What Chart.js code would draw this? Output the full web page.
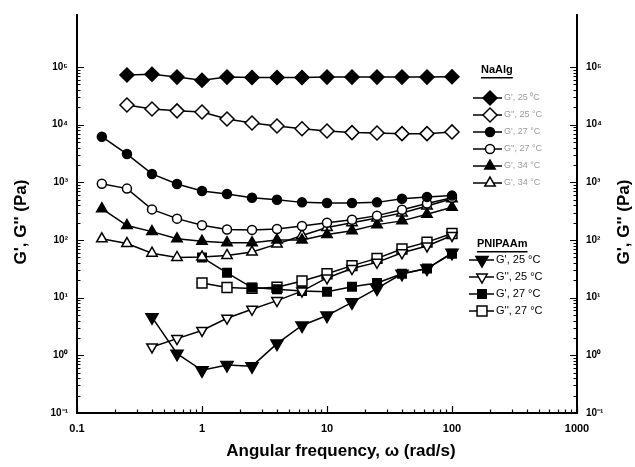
<!DOCTYPE html>
<html>
<head>
<meta charset="utf-8">
<script src="https://cdn.jsdelivr.net/npm/chart.js@4.4.1/dist/chart.umd.min.js"></script>
<style>
  html, body { margin: 0; padding: 0; background: #fff; }
  #wrap { width: 635px; height: 467px; position: relative; }
</style>
</head>
<body>
<div id="wrap"><canvas id="rheo"></canvas></div>
<script>
"use strict";

// angular frequency (rad/s) for each sweep
const w_naalg = [0.158, 0.251, 0.398, 0.631, 1, 1.585, 2.512, 3.981, 6.31, 10, 15.85, 25.12, 39.81, 63.1, 100];
const w_naalg_25 = [0.251, 0.398, 0.631, 1, 1.585, 2.512, 3.981, 6.31, 10, 15.85, 25.12, 39.81, 63.1, 100];
const w_pn_25 = [0.398, 0.631, 1, 1.585, 2.512, 3.981, 6.31, 10, 15.85, 25.12, 39.81, 63.1, 100];
const w_pn_27 = [1, 1.585, 2.512, 3.981, 6.31, 10, 15.85, 25.12, 39.81, 63.1, 100];

// moduli (Pa)
const g1_naalg_25 = [73000, 75000, 67000, 59000, 67000, 66000, 66000, 66000, 67000, 67000, 67000, 67000, 67000, 68000];
const g2_naalg_25 = [22000, 18700, 17400, 16600, 12600, 10700, 9500, 8500, 7800, 7300, 7200, 7000, 7000, 7500];
const g1_naalg_27 = [6200, 3100, 1400, 940, 710, 630, 540, 500, 450, 440, 440, 450, 520, 560, 590];
const g2_naalg_27 = [950, 780, 340, 235, 180, 152, 150, 155, 175, 200, 225, 265, 335, 430, 540];
const g1_naalg_34 = [350, 178, 140, 105, 95, 90, 90, 100, 100, 125, 145, 185, 215, 280, 370];
const g2_naalg_34 = [105, 87, 59, 50, 51, 54, 62, 85, 120, 165, 200, 240, 295, 390, 520];
const g1_pn_25 = [4.6, 1.07, 0.55, 0.68, 0.65, 1.6, 3.3, 4.9, 8.3, 14.5, 26, 32, 60];
const g2_pn_25 = [1.4, 1.95, 2.7, 4.4, 6.3, 8.9, 13, 22, 32, 41, 60, 79, 120];
const g1_pn_27 = [50, 27, 15, 14, 13, 12.7, 15.5, 18, 26, 32, 58];
const g2_pn_27 = [18, 15, 14.5, 15.2, 19.5, 26, 36, 48, 70, 92, 130];

const naalg_labels = ["G', 25 \u2070C", "G'', 25 \u00B0C", "G', 27 \u00B0C", "G'', 27 \u00B0C", "G', 34 \u00B0C", "G', 34 \u00B0C"];
const pn_labels = ["G', 25 \u00B0C", "G'', 25 \u00B0C", "G', 27 \u00B0C", "G'', 27 \u00B0C"];

const x_ticks = [0.1, 1, 10, 100, 1000];
const x_tick_labels = ["0.1", "1", "10", "100", "1000"];
const y_ticks = [0.1, 1, 10, 100, 1000, 10000, 100000];
const y_tick_labels = ["10\u207B\u00B9", "10\u2070", "10\u00B9", "10\u00B2", "10\u00B3", "10\u2074", "10\u2075"];

const FONT = "'Liberation Sans', Arial, sans-serif";

function series(label, xs, ys, style, filled, radius, rotation) {
  return {
    label: label,
    data: xs.map((x, i) => ({ x: x, y: ys[i] })),
    borderColor: '#000',
    borderWidth: 1.5,
    pointStyle: style,
    pointRotation: rotation || 0,
    pointRadius: radius,
    pointBorderWidth: 1.5,
    pointBorderColor: '#000',
    pointBackgroundColor: filled ? '#000' : '#fff',
    tension: 0
  };
}

const naalg_sets = [
  series("NaAlg G' 25", w_naalg_25, g1_naalg_25, 'rectRot', true, 7),
  series("NaAlg G'' 25", w_naalg_25, g2_naalg_25, 'rectRot', false, 7),
  series("NaAlg G' 27", w_naalg, g1_naalg_27, 'circle', true, 4.5),
  series("NaAlg G'' 27", w_naalg, g2_naalg_27, 'circle', false, 4.5),
  series("NaAlg G' 34", w_naalg, g1_naalg_34, 'triangle', true, 6),
  series("NaAlg G'' 34", w_naalg, g2_naalg_34, 'triangle', false, 6)
];
const pn_sets = [
  series("PNIPAAm G' 25", w_pn_25, g1_pn_25, 'triangle', true, 7, 180),
  series("PNIPAAm G'' 25", w_pn_25, g2_pn_25, 'triangle', false, 6, 180),
  series("PNIPAAm G' 27", w_pn_27, g1_pn_27, 'rect', true, 6),
  series("PNIPAAm G'' 27", w_pn_27, g2_pn_27, 'rect', false, 7)
];

function minorValues(lo, hi) {
  const out = [];
  for (let d = lo; d < hi; d *= 10) {
    for (let k = 1; k < 10; k++) out.push({ v: d * k, major: k === 1 });
  }
  out.push({ v: hi, major: true });
  return out;
}

function legendBlock(ctx, title, tx, ty, sets, labels, ys, lineX0, lineX1, markX, textX, textColor, textSize) {
  ctx.save();
  ctx.fillStyle = '#000';
  ctx.font = 'bold 11px ' + FONT;
  ctx.textBaseline = 'middle';
  ctx.textAlign = 'left';
  ctx.fillText(title, tx, ty);
  const tw = ctx.measureText(title).width;
  ctx.fillRect(tx, ty + 7, tw, 1.5);
  sets.forEach((ds, i) => {
    const y = ys[i];
    ctx.strokeStyle = '#000';
    ctx.lineWidth = 1.5;
    ctx.beginPath();
    ctx.moveTo(lineX0, y);
    ctx.lineTo(lineX1, y);
    ctx.stroke();
    ctx.fillStyle = ds.pointBackgroundColor;
    ctx.strokeStyle = '#000';
    ctx.lineWidth = 1.5;
    Chart.helpers.drawPoint(ctx, {
      pointStyle: ds.pointStyle,
      rotation: ds.pointRotation,
      radius: ds.pointRadius,
      borderWidth: 1.5
    }, markX, y);
    ctx.fillStyle = textColor;
    ctx.font = textSize + 'px ' + FONT;
    ctx.fillText(labels[i], textX, y);
  });
  ctx.restore();
}

const decor = {
  id: 'decor',
  afterDraw(chart) {
    const ctx = chart.ctx;
    const a = chart.chartArea;
    const sx = chart.scales.x, sy = chart.scales.y, sy2 = chart.scales.y2;
    ctx.save();
    ctx.strokeStyle = '#000';
    ctx.lineWidth = 1.2;
    // inward tick marks
    minorValues(0.1, 1000).forEach(t => {
      const px = Math.round(sx.getPixelForValue(t.v)) + 0.5;
      ctx.beginPath();
      ctx.moveTo(px, a.bottom);
      ctx.lineTo(px, a.bottom - (t.major ? 7 : 3.5));
      ctx.stroke();
    });
    minorValues(0.1, 100000).forEach(t => {
      const py = Math.round(sy.getPixelForValue(t.v)) + 0.5;
      const len = t.major ? 7 : 3.5;
      ctx.beginPath();
      ctx.moveTo(a.left, py);
      ctx.lineTo(a.left + len, py);
      ctx.moveTo(a.right, py);
      ctx.lineTo(a.right - len, py);
      ctx.stroke();
    });
    // axis titles
    ctx.fillStyle = '#000';
    ctx.font = 'bold 17px ' + FONT;
    ctx.textAlign = 'center';
    ctx.textBaseline = 'middle';
    ctx.fillText('Angular frequency, \u03C9 (rad/s)', 341, 451);
    [21, 624].forEach(x => {
      ctx.save();
      ctx.translate(x, 222);
      ctx.rotate(-Math.PI / 2);
      ctx.fillText("G', G'' (Pa)", 0, 0);
      ctx.restore();
    });
    ctx.restore();

    legendBlock(ctx, 'NaAlg', 481, 70, naalg_sets, naalg_labels,
      [98, 115, 132, 149, 166, 183], 473, 502, 490, 504, '#9a9a9a', 9);
    legendBlock(ctx, 'PNIPAAm', 477, 244, pn_sets, pn_labels,
      [260, 277, 294, 311], 469, 494, 482, 496, '#000', 11);
  }
};

function yAxis(position, width) {
  return {
    type: 'logarithmic',
    position: position,
    min: 0.1,
    max: 800000,
    grid: { display: false, drawTicks: false },
    border: { display: true, color: '#000', width: 2 },
    afterBuildTicks: (scale) => { scale.ticks = y_ticks.map(v => ({ value: v })); },
    afterFit: (scale) => { scale.width = width; },
    ticks: {
      autoSkip: false,
      padding: 9,
      color: '#000',
      font: { family: FONT, size: 10, weight: 'bold' },
      callback: (v) => y_tick_labels[y_ticks.indexOf(v)]
    }
  };
}

new Chart(document.getElementById('rheo'), {
  type: 'line',
  data: { datasets: naalg_sets.concat(pn_sets) },
  options: {
    responsive: true,
    maintainAspectRatio: false,
    animation: false,
    layout: { padding: { top: 13, left: 0, right: 0, bottom: 0 } },
    plugins: { legend: { display: false }, tooltip: { enabled: false } },
    scales: {
      x: {
        type: 'logarithmic',
        min: 0.1,
        max: 1000,
        grid: { display: false, drawTicks: false },
        border: { display: true, color: '#000', width: 2 },
        afterBuildTicks: (scale) => { scale.ticks = x_ticks.map(v => ({ value: v })); },
        afterFit: (scale) => { scale.height = 54; },
        ticks: {
          autoSkip: false,
          maxRotation: 0,
          padding: 9,
          color: '#000',
          font: { family: FONT, size: 11, weight: 'bold' },
          callback: (v) => x_tick_labels[x_ticks.indexOf(v)]
        }
      },
      y: yAxis('left', 77),
      y2: yAxis('right', 58)
    }
  },
  plugins: [decor]
});
</script>
</body>
</html>
